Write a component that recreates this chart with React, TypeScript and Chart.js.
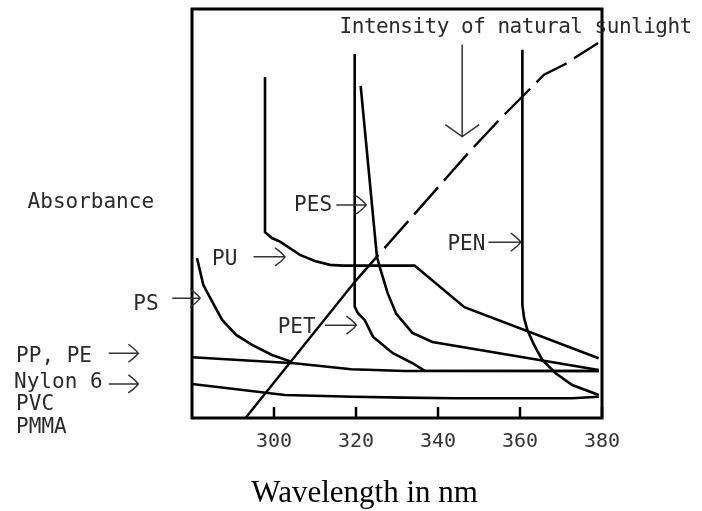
import React, { useEffect, useRef } from "react";
import { Chart, registerables } from "chart.js";

Chart.register(...registerables);

// ---------- Axis ----------
const xMin = 280;
const xMax = 380;
const yMin = 0;
const yMax = 100;
const tickValues = [300, 320, 340, 360, 380];
const xTitle = "Wavelength in nm";

// ---------- Series (wavelength nm, relative absorbance) ----------
const puX = [297.81, 297.81, 299.5, 301.46, 306.34, 309.98, 313.63, 316.77, 334.27, 346.43, 379.18];
const puY = [83.36, 45.44, 44.0, 43.14, 39.88, 38.41, 37.44, 37.26, 37.26, 27.09, 14.61];

const pesX = [321.14, 325.1, 325.76, 326.8, 327.7, 329.82, 333.77, 338.65, 379.22];
const pesY = [81.23, 39.47, 37.02, 33.6, 30.58, 25.45, 20.8, 18.59, 11.74];

const petX = [319.68, 319.68, 320.49, 322.11, 324.13, 328.99, 333.85, 336.7, 379.22];
const petY = [88.99, 27.23, 25.62, 23.98, 19.89, 15.83, 13.38, 11.57, 11.5];

const penX = [360.58, 360.58, 360.99, 361.8, 363.43, 365.44, 368.7, 372.73, 379.22];
const penY = [90.04, 27.65, 24.47, 21.53, 17.86, 14.19, 10.94, 8.07, 5.63];

const psX = [281.22, 282.75, 284.69, 287.36, 290.77, 294.65, 299.51, 304.37];
const psY = [39.08, 32.54, 28.87, 23.98, 20.31, 17.86, 15.41, 13.7];

const ppPeX = [280, 304.86, 318.88, 331.83, 379.22];
const ppPeY = [14.85, 13.38, 11.92, 11.5, 11.5];

const nylonX = [280, 302.67, 319.27, 331.5, 343.99, 372.66, 379.22];
const nylonY = [8.32, 5.63, 5.21, 4.97, 4.82, 4.82, 5.21];

const sunX = [292.47, 319.68, 342.28, 347.63, 355.41, 365.86, 370.72, 379.05];
const sunY = [-0.73, 33.28, 58.97, 65.08, 73.4, 83.92, 86.37, 91.68];
const sunSolidUntil = 319.68;

// ---------- Annotations (in data units) ----------
const labelTexts = ["Intensity of natural sunlight", "Absorbance", "PS", "PP, PE", "Nylon 6", "PVC", "PMMA", "PES", "PU", "PET", "PEN"];
const labelX = [316.0, 239.9, 265.7, 237.1, 236.6, 237.1, 237.1, 304.9, 284.9, 300.9, 342.3];
const labelY = [94.2, 51.45, 26.4, 13.78, 7.27, 1.96, -3.74, 50.5, 37.4, 20.7, 41.1];

const arrowX1 = [275.2, 259.7, 259.7, 315.2, 295.0, 312.4, 352.3];
const arrowX2 = [282.0, 266.9, 266.9, 322.5, 302.7, 320.1, 360.2];
const arrowY = [29.3, 15.83, 8.32, 52.1, 39.4, 22.7, 43.0];

const sunArrowX = 345.9;
const sunArrowY1 = 91.3;
const sunArrowY2 = 68.8;

const titleX = 322.1;
const titleY = -20.55;

const zip = (xs: number[], ys: number[]) => xs.map((x, i) => ({ x, y: ys[i] }));

const MONO = '"DejaVu Sans Mono", "Liberation Mono", monospace';

const annotPlugin = {
  id: "annot",
  afterDatasetsDraw(chart: any) {
    const { ctx, chartArea } = chart;
    const xs = chart.scales.x;
    const ys = chart.scales.y;
    ctx.save();
    // frame
    ctx.strokeStyle = "#000";
    ctx.lineWidth = 3;
    ctx.strokeRect(chartArea.left, chartArea.top, chartArea.right - chartArea.left, chartArea.bottom - chartArea.top);
    // inward ticks
    ctx.lineWidth = 2.5;
    tickValues.forEach((v) => {
      const px = xs.getPixelForValue(v);
      ctx.beginPath();
      ctx.moveTo(px, chartArea.bottom);
      ctx.lineTo(px, chartArea.bottom - 11);
      ctx.stroke();
    });
    // labels
    ctx.font = "21px " + MONO;
    ctx.fillStyle = "#2a2a2a";
    ctx.textAlign = "left";
    ctx.textBaseline = "alphabetic";
    labelTexts.forEach((t, i) => {
      (ctx as any).letterSpacing = i === 0 ? "-0.5px" : "0px";
      ctx.fillText(t, xs.getPixelForValue(labelX[i]), ys.getPixelForValue(labelY[i]));
    });
    (ctx as any).letterSpacing = "0px";
    // arrows
    ctx.strokeStyle = "#333";
    ctx.lineWidth = 1.5;
    arrowX1.forEach((x1, i) => {
      const a = xs.getPixelForValue(x1);
      const b = xs.getPixelForValue(arrowX2[i]);
      const py = ys.getPixelForValue(arrowY[i]);
      ctx.beginPath();
      ctx.moveTo(a, py);
      ctx.lineTo(b, py);
      ctx.moveTo(b - 10, py - 9);
      ctx.quadraticCurveTo(b - 3, py - 4, b, py);
      ctx.quadraticCurveTo(b - 3, py + 4, b - 10, py + 9);
      ctx.stroke();
    });
    // sunlight arrow
    const sx = xs.getPixelForValue(sunArrowX);
    const sy1 = ys.getPixelForValue(sunArrowY1);
    const sy2 = ys.getPixelForValue(sunArrowY2);
    ctx.beginPath();
    ctx.moveTo(sx, sy1);
    ctx.lineTo(sx, sy2);
    ctx.moveTo(sx - 17, sy2 - 12);
    ctx.lineTo(sx, sy2);
    ctx.lineTo(sx + 17, sy2 - 12);
    ctx.stroke();
    // x title
    ctx.font = '31px "Liberation Serif", "Times New Roman", serif';
    ctx.fillStyle = "#000";
    ctx.textAlign = "center";
    ctx.fillText(xTitle, xs.getPixelForValue(titleX), ys.getPixelForValue(titleY));
    ctx.restore();
  },
};

export default function App() {
  const ref = useRef<HTMLCanvasElement | null>(null);
  useEffect(() => {
    document.body.style.margin = "0";
    if (!ref.current) return;
    const line = (data: { x: number; y: number }[], extra: any = {}) => ({
      data,
      borderColor: "#000",
      borderWidth: 2.6,
      pointRadius: 0,
      tension: 0,
      fill: false,
      ...extra,
    });
    const chart = new Chart(ref.current, {
      type: "line",
      data: {
        datasets: [
          line(zip(puX, puY)),
          line(zip(pesX, pesY)),
          line(zip(petX, petY)),
          line(zip(penX, penY)),
          line(zip(psX, psY)),
          line(zip(ppPeX, ppPeY)),
          line(zip(nylonX, nylonY)),
          line(zip(sunX, sunY), {
            borderWidth: 2.4,
            segment: {
              borderDash: (c: any) => (c.p0.parsed.x >= sunSolidUntil - 0.01 ? [36, 9] : undefined),
            },
          }),
        ],
      },
      options: {
        animation: false,
        responsive: false,
        events: [],
        layout: { padding: { left: 192, right: 100, top: 9, bottom: 0 } },
        plugins: { legend: { display: false }, tooltip: { enabled: false } },
        scales: {
          x: {
            type: "linear",
            min: xMin,
            max: xMax,
            afterBuildTicks: (scale: any) => {
              scale.ticks = tickValues.map((v) => ({ value: v }));
            },
            afterFit: (scale: any) => {
              scale.height = 93;
            },
            grid: { display: false, drawTicks: false },
            border: { display: false },
            ticks: {
              padding: 12,
              color: "#333",
              font: { family: MONO, size: 20 },
              maxRotation: 0,
              autoSkip: false,
            },
          },
          y: { type: "linear", min: yMin, max: yMax, display: false },
        },
      },
      plugins: [annotPlugin],
    } as any);
    return () => chart.destroy();
  }, []);
  return (
    <div style={{ position: "absolute", left: 0, top: 0, width: 702, height: 511, background: "#fff" }}>
      <canvas ref={ref} width={702} height={511} style={{ display: "block" }} />
    </div>
  );
}
